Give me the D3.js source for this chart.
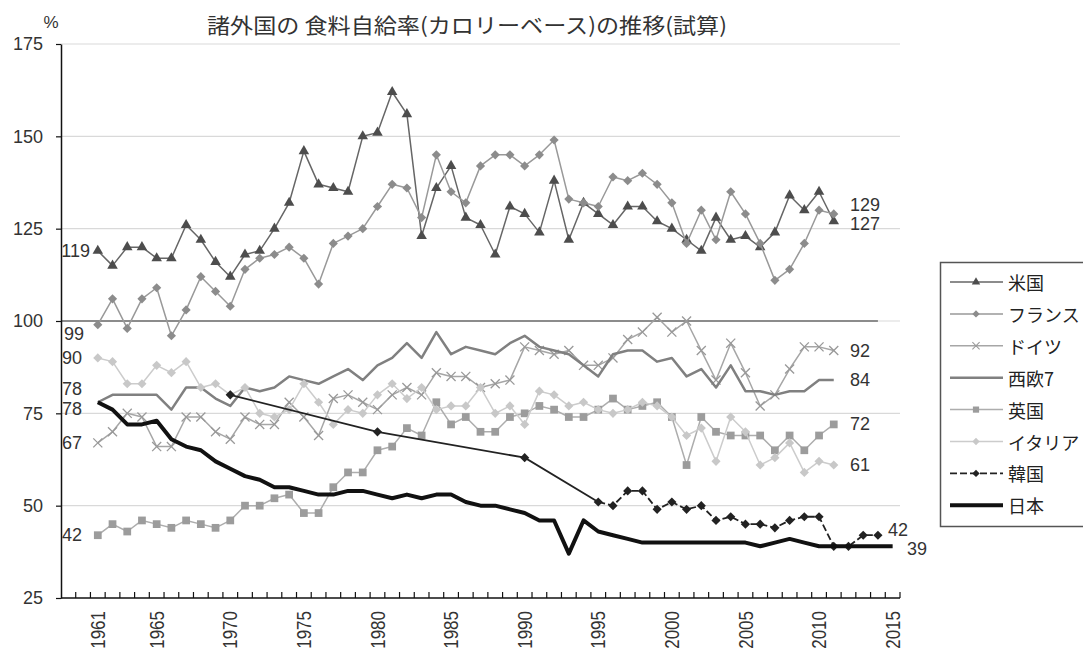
<!DOCTYPE html>
<html lang="ja">
<head>
<meta charset="utf-8">
<script src="https://cdn.jsdelivr.net/npm/d3@7"></script>
<style>
  body { margin: 0; background: #fff; }
  text { font-family: "Liberation Sans", Arial, sans-serif; fill: #333; }
  .jp { font-family: "Noto Sans CJK JP", sans-serif; }
</style>
</head>
<body>
<svg id="chart" width="1083" height="651"></svg>
<script>
// values, annual from 1961
const firstYear = 1961
const usa = [119, 115, 120, 120, 117, 117, 126, 122, 116, 112,
  118, 119, 125, 132, 146, 137, 136, 135, 150, 151,
  162, 156, 123, 136, 142, 128, 126, 118, 131, 129,
  124, 138, 122, 132, 129, 126, 131, 131, 127, 125,
  122, 119, 128, 122, 123, 120, 124, 134, 130, 135, 127]
const france = [99, 106, 98, 106, 109, 96, 103, 112, 108, 104,
  114, 117, 118, 120, 117, 110, 121, 123, 125, 131,
  137, 136, 128, 145, 135, 132, 142, 145, 145, 142,
  145, 149, 133, 132, 131, 139, 138, 140, 137, 132,
  121, 130, 122, 135, 129, 121, 111, 114, 121, 130, 129]
const germany = [67, 70, 75, 74, 66, 66, 74, 74, 70, 68,
  74, 72, 72, 78, 74, 69, 79, 80, 78, 76,
  80, 82, 80, 86, 85, 85, 82, 83, 84, 93,
  92, 91, 92, 88, 88, 90, 95, 97, 101, 97,
  100, 92, 84, 94, 86, 77, 80, 87, 93, 93, 92]
const westEurope = [78, 80, 80, 80, 80, 76, 82, 82, 79, 77,
  82, 81, 82, 85, 84, 83, 85, 87, 84, 88,
  90, 94, 90, 97, 91, 93, 92, 91, 94, 96,
  93, 92, 91, 88, 85, 91, 92, 92, 89, 90,
  85, 87, 82, 88, 81, 81, 80, 81, 81, 84, 84]
const uk = [42, 45, 43, 46, 45, 44, 46, 45, 44, 46,
  50, 50, 52, 53, 48, 48, 55, 59, 59, 65,
  66, 71, 69, 78, 72, 74, 70, 70, 74, 75,
  77, 76, 74, 74, 76, 79, 76, 77, 78, 74,
  61, 74, 70, 69, 69, 69, 65, 69, 65, 69, 72]
const italy = [90, 89, 83, 83, 88, 86, 89, 82, 83, 80,
  82, 75, 74, 76, 83, 78, 72, 76, 75, 80,
  83, 79, 82, 76, 77, 77, 82, 75, 77, 72,
  81, 80, 77, 78, 76, 75, 76, 78, 77, 74,
  69, 71, 62, 74, 70, 61, 63, 67, 59, 62, 61]
const japan = [78, 76, 72, 72, 73, 68, 66, 65, 62, 60,
  58, 57, 55, 55, 54, 53, 53, 54, 54, 53,
  52, 53, 52, 53, 53, 51, 50, 50, 49, 48,
  46, 46, 37, 46, 43, 42, 41, 40, 40, 40,
  40, 40, 40, 40, 40, 39, 40, 41, 40, 39,
  39, 39, 39, 39, 39]
const koreaYears = [1970, 1980, 1990, 1995, 1996, 1997, 1998, 1999, 2000, 2001, 2002,
  2003, 2004, 2005, 2006, 2007, 2008, 2009, 2010, 2011, 2012, 2013, 2014]
const koreaValues = [80, 70, 63, 51, 50, 54, 54, 49, 51, 49, 50,
  46, 47, 45, 45, 44, 46, 47, 47, 39, 39, 42, 42]

const axisYears = d3.range(1959, 2016)
const xLabels = [1961, 1965, 1970, 1975, 1980, 1985, 1990, 1995, 2000, 2005, 2010, 2015]
const yTicks = [25, 50, 75, 100, 125, 150, 175]
const gridValues = [50, 75, 100, 125, 150, 175]
const referenceValue = 100
const referenceEnd = 2014

const startLabels = [
  {text: '119', v: 119, dx: 90, anchor: 'end'},
  {text: '99', v: 96.5, dx: 64, anchor: 'start'},
  {text: '90', v: 90, dx: 62, anchor: 'start'},
  {text: '78', v: 81.5, dx: 62, anchor: 'start'},
  {text: '78', v: 76.3, dx: 62, anchor: 'start'},
  {text: '67', v: 67, dx: 62, anchor: 'start'},
  {text: '42', v: 42, dx: 62, anchor: 'start'}
]
const endLabels = [
  {text: '129', v: 131.3, dx: 850},
  {text: '127', v: 126.2, dx: 850},
  {text: '92', v: 92, dx: 850},
  {text: '84', v: 84, dx: 850},
  {text: '72', v: 72, dx: 850},
  {text: '61', v: 61, dx: 850},
  {text: '42', v: 43.5, dx: 888},
  {text: '39', v: 38.3, dx: 907}
]

const toPoints = values => values.map((v, i) => ({year: firstYear + i, v}))

const series = [
  {name: '米国', data: toPoints(usa), color: '#666', width: 1.5, marker: 'triangle', markerColor: '#4d4d4d'},
  {name: 'フランス', data: toPoints(france), color: '#999', width: 1.5, marker: 'diamond', markerColor: '#8c8c8c'},
  {name: 'ドイツ', data: toPoints(germany), color: '#a6a6a6', width: 1.5, marker: 'times', markerColor: '#999'},
  {name: '西欧7', data: toPoints(westEurope), color: '#808080', width: 2.5, marker: null},
  {name: '英国', data: toPoints(uk), color: '#adadad', width: 1.5, marker: 'square', markerColor: '#9c9c9c'},
  {name: 'イタリア', data: toPoints(italy), color: '#cccccc', width: 1.5, marker: 'diamond', markerColor: '#c8c8c8'},
  {name: '韓国', data: koreaYears.map((year, i) => ({year, v: koreaValues[i]})), color: '#222', width: 1.8, marker: 'diamond', markerColor: '#222', dash: '7,3'},
  {name: '日本', data: toPoints(japan), color: '#111', width: 4, marker: null}
]

const svg = d3.select('#chart')
const plotLeft = 61
const plotRight = 900
const plotTop = 44
const plotBottom = 598

const x = d3.scaleBand().domain(axisYears).range([plotLeft, plotRight])
const cx = year => x(year) + x.bandwidth() / 2
const y = d3.scaleLinear().domain([25, 175]).range([plotBottom, plotTop])

// grid
svg.append('g')
  .selectAll('line')
  .data(gridValues)
  .enter()
  .append('line')
  .attr('x1', plotLeft)
  .attr('x2', plotRight)
  .attr('y1', d => y(d))
  .attr('y2', d => y(d))
  .attr('stroke', '#d9d9d9')
  .attr('stroke-width', 1.2)

svg.append('line')
  .attr('x1', plotLeft)
  .attr('x2', cx(referenceEnd))
  .attr('y1', y(referenceValue))
  .attr('y2', y(referenceValue))
  .attr('stroke', '#8c8c8c')
  .attr('stroke-width', 2)

// y axis
const yAxis = svg.append('g')
  .attr('transform', `translate(${plotLeft},0)`)
  .call(d3.axisLeft(y).tickValues(yTicks).tickSize(5).tickSizeOuter(0).tickPadding(13))
yAxis.select('.domain').attr('stroke', '#111').attr('stroke-width', 1.5)
yAxis.selectAll('.tick line').attr('stroke', '#111').attr('stroke-width', 1.2)
yAxis.selectAll('.tick text')
  .style('font-family', '"Liberation Sans", Arial, sans-serif')
  .style('font-size', '18px')
  .attr('fill', '#333')

// x axis
svg.append('line')
  .attr('x1', plotLeft)
  .attr('x2', plotRight)
  .attr('y1', plotBottom)
  .attr('y2', plotBottom)
  .attr('stroke', '#111')
  .attr('stroke-width', 1.5)

svg.append('g')
  .selectAll('line')
  .data(axisYears.slice(1).map(d => x(d)).concat([plotRight]))
  .enter()
  .append('line')
  .attr('x1', d => d)
  .attr('x2', d => d)
  .attr('y1', plotBottom)
  .attr('y2', plotBottom - 6)
  .attr('stroke', '#111')
  .attr('stroke-width', 1.2)

// year labels are a little wide in the original, hence the scale
svg.append('g')
  .selectAll('text')
  .data(xLabels)
  .enter()
  .append('text')
  .attr('transform', d => `translate(${cx(d)},${plotBottom + 13}) rotate(-90) scale(1,1.2)`)
  .attr('text-anchor', 'end')
  .attr('dominant-baseline', 'central')
  .style('font-size', '17px')
  .text(d => d)

// series
const line = d3.line()
  .x(d => cx(d.year))
  .y(d => y(d.v))

const symbolFor = {
  triangle: d3.symbol().type(d3.symbolTriangle).size(48),
  diamond: d3.symbol().type(d3.symbolSquare).size(42),
  square: d3.symbol().type(d3.symbolSquare).size(60),
  times: d3.symbol().type(d3.symbolTimes).size(55)
}

const drawMarkers = (g, s, points, scale) => {
  if (!s.marker) return
  const rot = s.marker === 'diamond' ? 45 : 0
  const stroked = s.marker === 'times'
  g.selectAll('path.marker')
    .data(points)
    .enter()
    .append('path')
    .attr('class', 'marker')
    .attr('d', symbolFor[s.marker])
    .attr('transform', d => `translate(${d.px},${d.py}) rotate(${rot}) scale(${scale})`)
    .attr('fill', stroked ? 'none' : s.markerColor)
    .attr('stroke', stroked ? s.markerColor : 'none')
    .attr('stroke-width', stroked ? 1.3 : 0)
}

series.forEach(s => {
  const g = svg.append('g').attr('class', 'series')
  if (s.dash) {
    // Korea: sparse years joined by a plain line, annual years dashed
    const sparse = s.data.filter(d => d.year <= 1995)
    const annual = s.data.filter(d => d.year >= 1995)
    g.append('path').attr('d', line(sparse)).attr('fill', 'none')
      .attr('stroke', s.color).attr('stroke-width', s.width)
    g.append('path').attr('d', line(annual)).attr('fill', 'none')
      .attr('stroke', s.color).attr('stroke-width', s.width).attr('stroke-dasharray', s.dash)
  } else {
    g.append('path')
      .attr('d', line(s.data))
      .attr('fill', 'none')
      .attr('stroke', s.color)
      .attr('stroke-width', s.width)
      .attr('stroke-linejoin', 'round')
  }
  drawMarkers(g, s, s.data.map(d => ({px: cx(d.year), py: y(d.v)})), 1)
})

// value labels at the ends of the lines
svg.append('g')
  .selectAll('text')
  .data(startLabels)
  .enter()
  .append('text')
  .attr('x', d => d.dx)
  .attr('y', d => y(d.v))
  .attr('text-anchor', d => d.anchor)
  .attr('dominant-baseline', 'central')
  .style('font-size', '18px')
  .text(d => d.text)

svg.append('g')
  .selectAll('text')
  .data(endLabels)
  .enter()
  .append('text')
  .attr('x', d => d.dx)
  .attr('y', d => y(d.v))
  .attr('dominant-baseline', 'central')
  .style('font-size', '18px')
  .text(d => d.text)

// title and unit
svg.append('text')
  .attr('class', 'jp')
  .attr('x', 467)
  .attr('y', 24)
  .attr('text-anchor', 'middle')
  .attr('dominant-baseline', 'central')
  .attr('textLength', 520)
  .attr('lengthAdjust', 'spacingAndGlyphs')
  .style('font-size', '21px')
  .text('諸外国の 食料自給率(カロリーベース)の推移(試算)')

svg.append('text')
  .attr('x', 51)
  .attr('y', 22)
  .attr('text-anchor', 'middle')
  .attr('dominant-baseline', 'central')
  .style('font-size', '17px')
  .text('%')

// legend
const legend = svg.append('g').attr('transform', 'translate(940,262)')
legend.append('rect')
  .attr('x', 0.5)
  .attr('y', 0.5)
  .attr('width', 200)
  .attr('height', 264)
  .attr('fill', '#fff')
  .attr('stroke', '#555')
  .attr('stroke-width', 1.5)

series.forEach((s, i) => {
  const row = legend.append('g').attr('transform', `translate(0,${20 + i * 31.9})`)
  row.append('line')
    .attr('x1', 10)
    .attr('x2', 63)
    .attr('stroke', s.color)
    .attr('stroke-width', s.width)
    .attr('stroke-dasharray', s.dash || null)
  drawMarkers(row, s, [{px: 36, py: 0}], 0.8)
  row.append('text')
    .attr('class', 'jp')
    .attr('x', 68)
    .attr('dominant-baseline', 'central')
    .style('font-size', '18px')
    .style('fill', '#222')
    .text(s.name)
})
</script>
</body>
</html>
